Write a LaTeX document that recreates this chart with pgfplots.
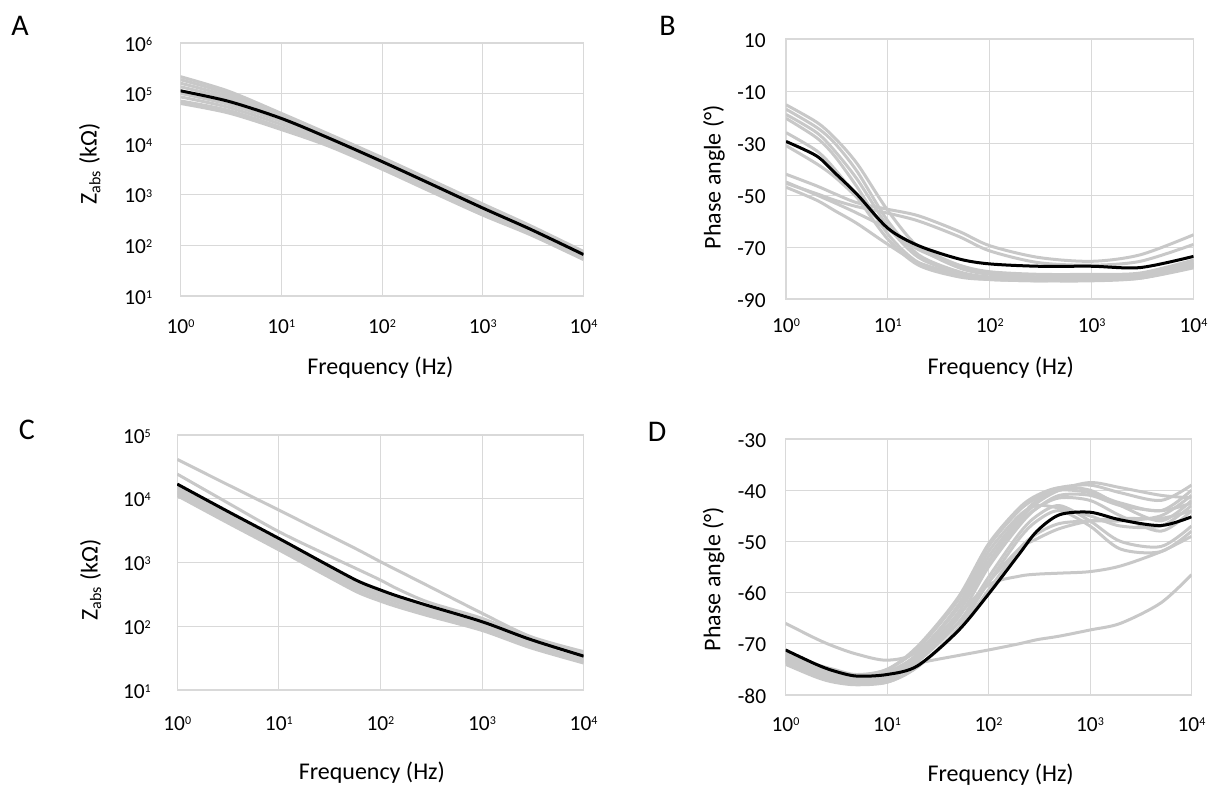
\documentclass[border=0pt]{standalone}
\usepackage{fontspec}
\setmainfont{Carlito}
\usepackage{pgfplots}
\usepackage{pgfplotstable}
\pgfplotsset{compat=1.18}
\definecolor{gridc}{RGB}{217,217,217}
\definecolor{linec}{RGB}{200,200,200}
\newcommand{\sps}[1]{\raisebox{2.9pt}{\fontsize{6}{6}\selectfont #1}}

% |Z| panel A (kOhm)
\pgfplotstableread{
f     g1     g2     g3     g4     g5     g6     g7     g8     m
1     216000 188400 160400 136400 101100 86100  71600  63800  113500
3     111400 99300  88500  78900  61200  53400  46500  41400  70300
10    40700  37150  35470  33880  28190  24560  21390  19510  32360
30    15730  14690  14030  13390  11660  10640  9700   9060   13090
100   5460   5094   4867   4540   4140   3777   3446   3214   4540
300   2000   1909   1783   1663   1517   1384   1262   1177   1663
1000  659    629    601    561    511    466    425    397    548
3000  243    232    222    207    193    180    168    161    207
10000 75.8   72.3   69.1   66     61.6   58.8   54.9   52.4   66
}\tabA

% phase panel B (deg)
\pgfplotstableread{
f     g1    g2    g3    g4    g5    g6    g7    g8    g9    g10   m
1     -15.3 -17   -19   -20.5 -26   -31   -42   -45.5 -47   -45   -29.4
2     -22   -24   -26   -28   -33   -38   -46.5 -49.5 -52   -50   -35.0
3     -28   -30   -33   -35   -40   -43   -49.5 -52   -56   -53   -41.4
5     -38   -41   -44   -47   -51   -51   -53   -54.5 -61   -57   -49.8
10    -56   -60   -62   -65   -67   -63   -55.5 -57   -69   -63   -62.8
20    -70   -73   -74   -76   -77   -71   -58   -60   -76   -70   -69.5
50    -78   -79.5 -80   -81   -81.5 -77   -64   -66   -80.5 -77   -74.6
100   -80.5 -81.5 -82   -82.5 -82.5 -79.5 -69.5 -71.5 -82   -80   -76.5
300   -81.5 -82   -82.5 -83   -83   -80.5 -74   -76   -82.5 -81.5 -77.4
1000  -81.5 -82   -82.5 -83   -82.5 -80.5 -75.5 -77   -82.5 -81.5 -77.4
3000  -81   -81.5 -82   -82   -81   -80   -73   -75.5 -81.5 -80.5 -77.9
10000 -76   -77   -78   -77.5 -76.5 -75   -65.3 -69   -77   -75.5 -73.6
}\tabB

% |Z| panel C (kOhm)
\pgfplotstableread{
f     b1    b2    b3    b4    b5    u2    u1    m
1     15860 14450 13260 12240 11200 24400 41500 17000
3     6160  5610  5150  4750  4360  9000  17260 6600
10    2230  2030  1860  1720  1580  3050  6650  2390
30    858   782   720   660   610   1310  2760  920
60    479   436   405   365   340   781   1585  513
100   346   315   293   265   248   531   1030  371
150   275   251   235   212   200   380   742   295
300   195   178   167   152   145   237   424   209
1000  110   100   97    91    86    133   160   118
3000  58    53    51    48    46    66    69    62
10000 35.7  31    29.5  28    26.5  36    40    34
}\tabC

% phase panel D (deg)
\pgfplotstableread{
f     c1    c2    c3    c4    c5    c6    c7    c8    c9    s1    s2    s3    s4    m
1     -72   -72.5 -73   -71.5 -73   -73.5 -73.5 -72   -74   -66   -72.5 -73.5 -73   -71.2
2     -74.5 -75   -75.5 -74   -75.5 -76   -76   -74.5 -76.5 -69   -75   -76   -75.5 -74.0
3     -75.5 -76   -76.5 -75   -76.5 -77   -77   -75.5 -77.5 -70.5 -76   -77   -76.5 -75.3
5     -76.3 -76.7 -77.2 -76   -77   -77.5 -77.5 -76.5 -78   -72   -76.3 -77   -77   -76.3
10    -75   -75.8 -76.5 -75   -76.5 -77   -77.5 -75.5 -77.5 -73.2 -75.5 -76   -76   -76.0
20    -71   -72   -72.5 -70.5 -73   -73.5 -74.5 -72   -74.5 -71.5 -73.8 -72.5 -73   -74.3
50    -61.5 -63   -64   -61   -65   -66   -67   -62.5 -67.5 -63   -72.3 -64.5 -66   -67.5
100   -51   -53   -54   -50.5 -55   -57   -58   -52   -59.5 -54   -71.2 -58.5 -58   -60.3
200   -44   -45.5 -46   -43.5 -47   -48.5 -49.5 -45   -51.5 -46.5 -70   -56.8 -51.5 -52.5
300   -41.5 -42   -42.5 -41   -43.5 -45   -46   -43   -48.5 -43.5 -69.2 -56.4 -49.5 -48
500   -39.5 -40   -40   -39.5 -41.5 -43   -44   -43.5 -46.5 -41   -68.5 -56.2 -47.5 -44.8
1000  -39   -40.5 -38.5 -40   -42   -46   -47   -45   -46   -41   -67.3 -55.9 -46   -44.3
2000  -40.5 -42.5 -39.5 -43   -45   -50   -51.5 -47   -46   -43   -66   -54.8 -45.5 -45.8
5000  -42   -44   -41   -46   -48   -51   -52   -47   -45   -44   -62   -52   -45.5 -46.9
10000 -39   -40   -41.5 -42   -44   -47   -48   -43   -41   -42.5 -56.5 -49   -44   -45.2
}\tabD

\pgfplotsset{
  every axis/.append style={
    scale only axis,
    xmin=1, xmax=10000,
    grid=major,
    major grid style={draw=gridc, line width=0.5pt},
    axis line style={draw=gridc, line width=0.6pt},
    major tick length=0pt, minor tick length=0pt,
    tick label style={font=\fontsize{10.7}{12}\selectfont},
    xticklabel style={anchor=base},
    yticklabel style={anchor=base east, inner sep=0pt, yshift=-4pt},
    label style={font=\fontsize{12}{14}\selectfont, anchor=center},
    xtick={1,10,100,1000,10000},
    xticklabels={10\sps{0},10\sps{1},10\sps{2},10\sps{3},10\sps{4}},
  },
}
\tikzset{
  gline/.style={draw=linec, line width=1.5pt, smooth},
  mline/.style={draw=black, line width=1.5pt, smooth},
}

\begin{document}
\begin{tikzpicture}
\path[use as bounding box] (0,0) rectangle (607.5pt,-393.5pt);

\node[font=\fontsize{15}{18}\selectfont] at (10pt,-12.75pt) {A};
\node[font=\fontsize{15}{18}\selectfont] at (333.8pt,-13pt) {B};
\node[font=\fontsize{15}{18}\selectfont] at (13.4pt,-215pt) {C};
\node[font=\fontsize{15}{18}\selectfont] at (328.5pt,-216pt) {D};

% A
\begin{semilogxaxis}[
  at={(90.25pt,-21.5pt)}, anchor=north west,
  width=201.5pt, height=126.5pt,
  ymode=log,
  ymin=10, ymax=1000000,
  ytick={10,100,1000,10000,100000,1000000},
  yticklabels={10\sps{1},10\sps{2},10\sps{3},10\sps{4},10\sps{5},10\sps{6}},
  yticklabel style={xshift=-14pt},
  xticklabel style={yshift=-18.5pt},
  xlabel={Frequency (Hz)},
  ylabel={Z\textsubscript{abs} (kΩ)},
  xlabel style={at={(axis description cs:0.496,-0.285)}},
  ylabel style={at={(axis description cs:-0.225,0.522)}},
]
\addplot[gline] table[x=f, y=g1] {\tabA};
\addplot[gline] table[x=f, y=g2] {\tabA};
\addplot[gline] table[x=f, y=g3] {\tabA};
\addplot[gline] table[x=f, y=g4] {\tabA};
\addplot[gline] table[x=f, y=g5] {\tabA};
\addplot[gline] table[x=f, y=g6] {\tabA};
\addplot[gline] table[x=f, y=g7] {\tabA};
\addplot[gline] table[x=f, y=g8] {\tabA};
\addplot[mline] table[x=f, y=m] {\tabA};
\end{semilogxaxis}

% B
\begin{semilogxaxis}[
  at={(393pt,-19.5pt)}, anchor=north west,
  width=203.75pt, height=130pt,
  ymin=-90, ymax=10,
  ytick={-90,-70,-50,-30,-10,10},
  yticklabels={-90,-70,-50,-30,-10,10},
  yticklabel style={xshift=-10pt},
  xticklabel style={yshift=-16.75pt},
  xlabel={Frequency (Hz)},
  ylabel={Phase angle (°)},
  xlabel style={at={(axis description cs:0.527,-0.265)}},
  ylabel style={at={(axis description cs:-0.177,0.469)}},
]
\addplot[gline] table[x=f, y=g1] {\tabB};
\addplot[gline] table[x=f, y=g2] {\tabB};
\addplot[gline] table[x=f, y=g3] {\tabB};
\addplot[gline] table[x=f, y=g4] {\tabB};
\addplot[gline] table[x=f, y=g5] {\tabB};
\addplot[gline] table[x=f, y=g6] {\tabB};
\addplot[gline] table[x=f, y=g7] {\tabB};
\addplot[gline] table[x=f, y=g8] {\tabB};
\addplot[gline] table[x=f, y=g9] {\tabB};
\addplot[gline] table[x=f, y=g10] {\tabB};
\addplot[mline] table[x=f, y=m] {\tabB};
\end{semilogxaxis}

% C
\begin{semilogxaxis}[
  at={(88.6pt,-217.5pt)}, anchor=north west,
  width=203.2pt, height=127.5pt,
  ymode=log,
  ymin=10, ymax=100000,
  ytick={10,100,1000,10000,100000},
  yticklabels={10\sps{1},10\sps{2},10\sps{3},10\sps{4},10\sps{5}},
  yticklabel style={xshift=-13pt},
  xticklabel style={yshift=-20pt},
  xlabel={Frequency (Hz)},
  ylabel={Z\textsubscript{abs} (kΩ)},
  xlabel style={at={(axis description cs:0.479,-0.325)}},
  ylabel style={at={(axis description cs:-0.213,0.431)}},
]
\addplot[gline] table[x=f, y=b1] {\tabC};
\addplot[gline] table[x=f, y=b2] {\tabC};
\addplot[gline] table[x=f, y=b3] {\tabC};
\addplot[gline] table[x=f, y=b4] {\tabC};
\addplot[gline] table[x=f, y=b5] {\tabC};
\addplot[gline] table[x=f, y=u2] {\tabC};
\addplot[gline] table[x=f, y=u1] {\tabC};
\addplot[mline] table[x=f, y=m] {\tabC};
\end{semilogxaxis}

% D
\begin{semilogxaxis}[
  at={(392.75pt,-219.5pt)}, anchor=north west,
  width=203pt, height=128pt,
  ymin=-80, ymax=-30,
  ytick={-80,-70,-60,-50,-40,-30},
  yticklabels={-80,-70,-60,-50,-40,-30},
  yticklabel style={xshift=-9.5pt},
  xticklabel style={yshift=-18.3pt},
  xlabel={Frequency (Hz)},
  ylabel={Phase angle (°)},
  xlabel style={at={(axis description cs:0.53,-0.3125)}},
  ylabel style={at={(axis description cs:-0.177,0.453)}},
]
\addplot[gline] table[x=f, y=c1] {\tabD};
\addplot[gline] table[x=f, y=c2] {\tabD};
\addplot[gline] table[x=f, y=c3] {\tabD};
\addplot[gline] table[x=f, y=c4] {\tabD};
\addplot[gline] table[x=f, y=c5] {\tabD};
\addplot[gline] table[x=f, y=c6] {\tabD};
\addplot[gline] table[x=f, y=c7] {\tabD};
\addplot[gline] table[x=f, y=c8] {\tabD};
\addplot[gline] table[x=f, y=c9] {\tabD};
\addplot[gline] table[x=f, y=s1] {\tabD};
\addplot[gline] table[x=f, y=s2] {\tabD};
\addplot[gline] table[x=f, y=s3] {\tabD};
\addplot[gline] table[x=f, y=s4] {\tabD};
\addplot[mline] table[x=f, y=m] {\tabD};
\end{semilogxaxis}
\end{tikzpicture}
\end{document}
